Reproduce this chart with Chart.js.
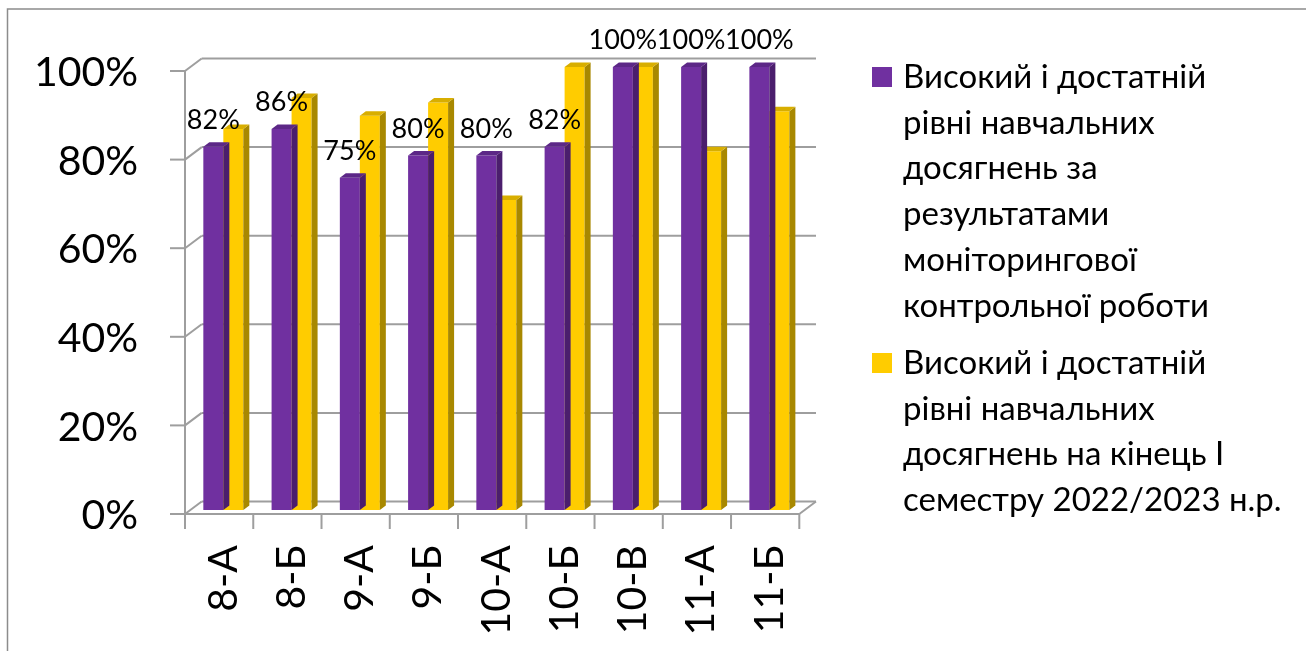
<!DOCTYPE html>
<html>
<head>
<meta charset="utf-8">
<script src="https://cdn.jsdelivr.net/npm/chart.js@4.4.1/dist/chart.umd.min.js"></script>
<style>
html,body{margin:0;padding:0;background:#fff;}
#wrap{position:relative;width:1306px;height:651px;}
</style>
</head>
<body>
<div id="wrap"><canvas id="c" width="1306" height="651"></canvas></div>
<script>
// ---- data ----
const categories = ['8-А', '8-Б', '9-А', '9-Б', '10-А', '10-Б', '10-В', '11-А', '11-Б'];
const monitoringValues = [82, 86, 75, 80, 80, 82, 100, 100, 100];
const semesterValues = [86, 93, 89, 92, 70, 100, 100, 81, 90];
const seriesNames = [
  'Високий і достатній рівні навчальних досягнень за результатами моніторингової контрольної роботи',
  'Високий і достатній рівні навчальних досягнень на кінець І семестру 2022/2023 н.р.'
];
const legendLines = [
  ['Високий і достатній', 'рівні навчальних', 'досягнень за', 'результатами', 'моніторингової', 'контрольної роботи'],
  ['Високий і достатній', 'рівні навчальних', 'досягнень на кінець І', 'семестру 2022/2023 н.р.']
];
const yMin = 0, yMax = 100, yStep = 20;

// ---- styles ----
const FONT = 'Lato';
const faceColors = [
  { front: '#7030A0', side: '#4B1E6D', top: '#5C2787' },
  { front: '#FFCC00', side: '#A88800', top: '#D8AE00' }
];
const DEPTH_X = 6, DEPTH_Y = -4.5;
const GRID = '#9E9E9E';

function line(ctx, x1, y1, x2, y2) {
  ctx.beginPath(); ctx.moveTo(x1, y1); ctx.lineTo(x2, y2); ctx.stroke();
}
function poly(ctx, pts) {
  ctx.beginPath(); ctx.moveTo(pts[0][0], pts[0][1]);
  for (let i = 1; i < pts.length; i++) ctx.lineTo(pts[i][0], pts[i][1]);
  ctx.closePath(); ctx.fill();
}

const frame3d = {
  id: 'frame3d',
  beforeDraw(chart) {
    const ctx = chart.ctx;
    ctx.save();
    ctx.strokeStyle = '#8C8C8C'; ctx.lineWidth = 1.5;
    ctx.strokeRect(7.5, 9, 1400, 800);
    ctx.restore();
  },
  beforeDatasetsDraw(chart) {
    const { ctx, chartArea: a, scales: { x, y } } = chart;
    const fx = -4.2, fy = 4;    // front plane offset
    const bx = 12.5, by = -8.5; // back wall offset
    ctx.save();
    ctx.strokeStyle = GRID; ctx.lineWidth = 2;
    for (let v = yMin; v <= yMax; v += yStep) {
      const py = y.getPixelForValue(v);
      line(ctx, a.left + bx, py + by, a.right + bx, py + by);
      line(ctx, a.left + fx, py + fy, a.left + bx, py + by);
      line(ctx, a.left + fx - 15, py + fy, a.left + fx, py + fy);
    }
    const y0 = y.getPixelForValue(yMin), yT = y.getPixelForValue(yMax);
    line(ctx, a.left + fx, yT + fy - 1, a.left + fx, y0 + fy + 15);
    line(ctx, a.left + fx, y0 + fy, a.right + fx, y0 + fy);
    line(ctx, a.right + fx, y0 + fy, a.right + bx, y0 + by);
    const n = categories.length;
    const w = (a.right - a.left) / n;
    for (let i = 1; i <= n; i++) {
      const xi = x.getPixelForValue(i) - w / 2 + fx;
      line(ctx, xi, y0 + fy, xi, y0 + fy + 15);
    }
    ctx.restore();
  },
  afterDatasetDraw(chart, args) {
    const ctx = chart.ctx;
    const meta = chart.getDatasetMeta(args.index);
    const c = faceColors[args.index];
    ctx.save();
    meta.data.forEach(bar => {
      const p = bar.getProps(['x', 'y', 'base', 'width'], true);
      const l = p.x - p.width / 2, r = p.x + p.width / 2;
      ctx.fillStyle = c.side;
      poly(ctx, [[r, p.y], [r + DEPTH_X, p.y + DEPTH_Y], [r + DEPTH_X, p.base + DEPTH_Y], [r, p.base]]);
      ctx.fillStyle = c.top;
      poly(ctx, [[l, p.y], [l + DEPTH_X, p.y + DEPTH_Y], [r + DEPTH_X, p.y + DEPTH_Y], [r, p.y]]);
    });
    ctx.restore();
  },
  afterDraw(chart) {
    const ctx = chart.ctx;
    ctx.save();
    // data labels for first series
    const meta = chart.getDatasetMeta(0);
    ctx.fillStyle = '#000';
    ctx.font = '27px ' + FONT;
    ctx.textAlign = 'center';
    ctx.textBaseline = 'alphabetic';
    meta.data.forEach((bar, i) => {
      const p = bar.getProps(['x', 'y'], true);
      ctx.fillText(monitoringValues[i] + '%', p.x, p.y - 18);
    });
    // legend
    const starts = [88, 374];
    const pitch = 45.7;
    ctx.textAlign = 'left';
    ctx.font = '33px ' + FONT;
    legendLines.forEach((lines, k) => {
      ctx.fillStyle = faceColors[k].front;
      ctx.fillRect(872, starts[k] - 21, 20, 20);
      ctx.fillStyle = '#000';
      lines.forEach((t, j) => ctx.fillText(t, 903, starts[k] + j * pitch));
    });
    ctx.restore();
  }
};

function build() {
  new Chart(document.getElementById('c'), {
    type: 'bar',
    data: {
      labels: categories,
      datasets: [
        { label: seriesNames[0], data: monitoringValues, backgroundColor: faceColors[0].front, borderWidth: 0 },
        { label: seriesNames[1], data: semesterValues, backgroundColor: faceColors[1].front, borderWidth: 0 }
      ]
    },
    options: {
      responsive: false,
      animation: false,
      events: [],
      layout: { padding: { top: 67, right: 502.5, left: 0, bottom: 0 } },
      categoryPercentage: 0.586,
      barPercentage: 1,
      plugins: { legend: { display: false }, tooltip: { enabled: false } },
      scales: {
        x: {
          grid: { display: false },
          border: { display: false },
          ticks: {
            autoSkip: false, minRotation: 90, maxRotation: 90,
            padding: 27, color: '#000', font: { family: FONT, size: 41 }
          },
          afterFit(s) { s.height = 141; }
        },
        y: {
          min: yMin, max: yMax,
          grid: { display: false },
          border: { display: false },
          ticks: {
            stepSize: yStep, padding: 43, labelOffset: 6, color: '#000',
            font: { family: FONT, size: 41, lineHeight: 0.6 },
            callback: v => v + '%'
          },
          afterFit(s) { s.width = 189.2; }
        }
      }
    },
    plugins: [frame3d]
  });
}
if (document.fonts && document.fonts.load) {
  Promise.all([document.fonts.load('41px Lato'), document.fonts.load('33px Lato')]).then(build, build);
} else { build(); }
</script>
</body>
</html>
